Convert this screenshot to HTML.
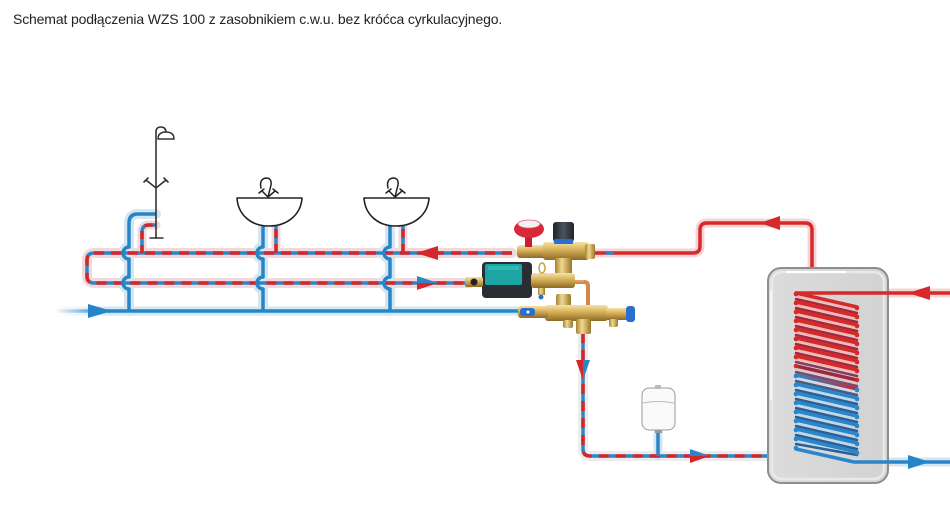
<!DOCTYPE html>
<html><head><meta charset="utf-8">
<style>
html,body{margin:0;padding:0;background:#fff;}
body{width:950px;height:506px;position:relative;overflow:hidden;}
.t{position:absolute;left:13px;top:11px;font-family:"Liberation Sans",sans-serif;font-size:14px;color:#222;white-space:nowrap;letter-spacing:-0.15px;}
svg{position:absolute;left:0;top:0;}
</style></head><body>
<div class="t">Schemat podłączenia WZS 100 z zasobnikiem c.w.u. bez króćca cyrkulacyjnego.</div>
<svg width="950" height="506" viewBox="0 0 950 506" xmlns="http://www.w3.org/2000/svg">
<defs>
<linearGradient id="fade" x1="55" y1="0" x2="110" y2="0" gradientUnits="userSpaceOnUse">
<stop offset="0" stop-color="#2585c7" stop-opacity="0"/><stop offset="1" stop-color="#2585c7"/></linearGradient>
<linearGradient id="fadeh" x1="55" y1="0" x2="110" y2="0" gradientUnits="userSpaceOnUse">
<stop offset="0" stop-color="#d3e6f2" stop-opacity="0"/><stop offset="1" stop-color="#d3e6f2"/></linearGradient>
<linearGradient id="brass" x1="0" y1="0" x2="0" y2="1">
<stop offset="0" stop-color="#f5e2a8"/><stop offset="0.45" stop-color="#d4ae55"/><stop offset="1" stop-color="#8d6a26"/></linearGradient>
<linearGradient id="brassv" x1="0" y1="0" x2="1" y2="0">
<stop offset="0" stop-color="#a4822f"/><stop offset="0.4" stop-color="#f0d892"/><stop offset="1" stop-color="#9a7628"/></linearGradient>
<linearGradient id="blk" x1="0" y1="0" x2="1" y2="0">
<stop offset="0" stop-color="#1f232a"/><stop offset="0.5" stop-color="#4a5260"/><stop offset="1" stop-color="#1f232a"/></linearGradient>
<linearGradient id="tank" x1="0" y1="0" x2="1" y2="0">
<stop offset="0" stop-color="#dcdcdc"/><stop offset="1" stop-color="#d2d2d2"/></linearGradient>
<linearGradient id="mix" x1="796" y1="0" x2="857" y2="0" gradientUnits="userSpaceOnUse">
<stop offset="0" stop-color="#2a86c8"/><stop offset="1" stop-color="#c8283a"/></linearGradient>
</defs>

<!-- ===== HALOS ===== -->
<g fill="none" stroke-linecap="round" stroke-linejoin="round">
<path d="M55,311 L520,311" stroke="url(#fadeh)" stroke-width="9"/>
<path d="M110,311 L520,311" stroke="#d3e6f2" stroke-width="9"/>
<path d="M512,253 L94,253 Q87,253 87,260 L87,276 Q87,283 94,283 L470,283" stroke="#f1d9da" stroke-width="10"/>
<path d="M142,253 L142,232 Q142,225 149,225 L156,225" stroke="#f1d9da" stroke-width="9"/>
<path d="M276,253 L276,226" stroke="#f1d9da" stroke-width="9"/>
<path d="M403,253 L403,226" stroke="#f1d9da" stroke-width="9"/>
<path d="M129,311 L129,289 A6,6 0 0 1 129,277 L129,259 A6,6 0 0 1 129,247 L129,223 Q129,214 138,214 L156,214" stroke="#d3e6f2" stroke-width="10"/>
<path d="M263,311 L263,289 A6,6 0 0 1 263,277 L263,259 A6,6 0 0 1 263,247 L263,226" stroke="#d3e6f2" stroke-width="10"/>
<path d="M390,311 L390,289 A6,6 0 0 1 390,277 L390,259 A6,6 0 0 1 390,247 L390,226" stroke="#d3e6f2" stroke-width="10"/>
<path d="M593,253 L693,253 Q700,253 700,246 L700,230 Q700,223 707,223 L805,223 Q812,223 812,230 L812,268" stroke="#f4d4d5" stroke-width="9"/>
<path d="M583,333 L583,449 Q583,456 590,456 L768,456" stroke="#ececec" stroke-width="10"/>
<path d="M658,432 L658,456" stroke="#d3e6f2" stroke-width="9"/>
<path d="M950,293 L800,293" stroke="#f4d4d5" stroke-width="9"/>
<path d="M855,462 L950,462" stroke="#d3e6f2" stroke-width="9"/>
</g>

<!-- ===== PIPE LINES ===== -->
<g fill="none" stroke-width="3.5" stroke-linejoin="round">
<path d="M55,311 L110,311" stroke="url(#fade)"/>
<path d="M108,311 L520,311" stroke="#2585c7"/>
<path d="M512,253 L94,253 Q87,253 87,260 L87,276 Q87,283 94,283 L470,283" stroke="#2a86c8"/>
<path d="M512,253 L94,253 Q87,253 87,260 L87,276 Q87,283 94,283 L470,283" stroke="#d7262b" stroke-dasharray="10 7"/>
<path d="M142,253 L142,232 Q142,225 149,225 L156,225" stroke="#2a86c8"/>
<path d="M142,253 L142,232 Q142,225 149,225 L156,225" stroke="#d7262b" stroke-dasharray="8 6"/>
<path d="M276,253 L276,226" stroke="#2a86c8"/>
<path d="M276,253 L276,226" stroke="#d7262b" stroke-dasharray="9 6"/>
<path d="M403,253 L403,226" stroke="#2a86c8"/>
<path d="M403,253 L403,226" stroke="#d7262b" stroke-dasharray="9 6"/>
<path d="M129,311 L129,289 A6,6 0 0 1 129,277 L129,259 A6,6 0 0 1 129,247 L129,223 Q129,214 138,214 L156,214" stroke="#2585c7"/>
<path d="M263,311 L263,289 A6,6 0 0 1 263,277 L263,259 A6,6 0 0 1 263,247 L263,226" stroke="#2585c7"/>
<path d="M390,311 L390,289 A6,6 0 0 1 390,277 L390,259 A6,6 0 0 1 390,247 L390,226" stroke="#2585c7"/>
<path d="M593,253 L693,253 Q700,253 700,246 L700,230 Q700,223 707,223 L805,223 Q812,223 812,230 L812,268" stroke="#d62a2a"/>
<path d="M606,253 L614,253" stroke="#2a86c8"/>
<path d="M583,333 L583,449 Q583,456 590,456 L768,456" stroke="#2a86c8"/>
<path d="M583,333 L583,449 Q583,456 590,456 L768,456" stroke="#d7262b" stroke-dasharray="10 7"/>
<path d="M658,432 L658,456" stroke="#2a86c8"/>
</g>

<!-- ===== ARROWS ===== -->
<polygon points="88,304 112,311 88,318" fill="#2585c7"/>
<polygon points="438,246 416,253 438,260" fill="#d7262b"/>
<polygon points="417,276 438,283 417,283" fill="#2a86c8"/>
<polygon points="417,283 438,283 417,290" fill="#d7262b"/>
<polygon points="780,216 760,223 780,230" fill="#d62a2a"/>
<polygon points="576,360 583,360 583,380" fill="#d7262b"/>
<polygon points="583,360 590,360 583,380" fill="#2a86c8"/>
<polygon points="690,449 710,456 690,456" fill="#2a86c8"/>
<polygon points="690,456 710,456 690,463" fill="#d7262b"/>

<!-- ===== SHOWER ===== -->
<g fill="none" stroke="#333" stroke-width="1.6" stroke-linecap="round">
<path d="M156,238 L156,132 Q156,127 161,127 Q166,127 166,133"/>
<path d="M150,238 L163,238"/>
<path d="M146,180 L156,188 L166,180"/>
<path d="M144,182 L148,178 M164,178 L168,182"/>
</g>
<path d="M158,139 Q158,132 166,132 Q174,132 174,139 Z" fill="#fff" stroke="#333" stroke-width="1.5"/>

<!-- ===== SINKS ===== -->
<g fill="#fff" stroke="#222" stroke-width="1.6" stroke-linejoin="round">
<path d="M237,198 L302,198 C301,214 288,226 269,226 C250,226 238,214 237,198 Z"/>
<path d="M364,198 L429,198 C428,214 415,226 396,226 C377,226 365,214 364,198 Z"/>
</g>
<g fill="none" stroke="#222" stroke-width="1.5" stroke-linecap="round">
<path d="M261,188 Q259,179 266,178 Q272,178 271,185 L268,197"/>
<path d="M268,197 L262,191 M268,197 L275,191 M259,193 L264,189 M273,189 L278,193"/>
<path d="M388,188 Q386,179 393,178 Q399,178 398,185 L395,197"/>
<path d="M395,197 L389,191 M395,197 L402,191 M386,193 L391,189 M400,189 L405,193"/>
</g>

<!-- ===== EXPANSION VESSEL ===== -->
<rect x="655" y="427" width="7" height="6" fill="#999"/>
<rect x="642" y="388" width="33" height="42" rx="7" fill="#fafafa" stroke="#9a9a9a" stroke-width="1"/>
<path d="M643,403 Q658,400 674,403" stroke="#bbb" fill="none" stroke-width="1"/>
<rect x="655" y="385" width="6" height="4" fill="#bbb"/>

<!-- ===== TANK ===== -->
<rect x="768" y="268" width="120" height="215" rx="13" fill="url(#tank)" stroke="#8e8e8e" stroke-width="2"/>
<rect x="772" y="272" width="112" height="207" rx="10" fill="none" stroke="#e9e9e9" stroke-width="2.5"/>
<path d="M786,272 L846,272" stroke="#fff" stroke-width="2"/>
<path d="M771,290 L771,400" stroke="#f5f5f5" stroke-width="2"/>

<!-- coil -->
<g stroke-linecap="round">
<path d="M950,293 L796,293" stroke="#d62a2a" stroke-width="3.5"/>
<path d="M796,293 L857,307" stroke="#d62a2a" stroke-width="3.5"/>
<path d="M796,296 L857,310" stroke="#f2b8b8" stroke-width="2"/>
<path d="M796,299 L857,313" stroke="#a8283a" stroke-width="2.5"/>
<path d="M796,302 L857,316" stroke="#d62a2a" stroke-width="3.5"/>
<path d="M796,305 L857,319" stroke="#f2b8b8" stroke-width="2"/>
<path d="M796,308 L857,322" stroke="#a8283a" stroke-width="2.5"/>
<path d="M796,311 L857,325" stroke="#d62a2a" stroke-width="3.5"/>
<path d="M796,314 L857,328" stroke="#f2b8b8" stroke-width="2"/>
<path d="M796,317 L857,331" stroke="#a8283a" stroke-width="2.5"/>
<path d="M796,320 L857,334" stroke="#d62a2a" stroke-width="3.5"/>
<path d="M796,323 L857,337" stroke="#f2b8b8" stroke-width="2"/>
<path d="M796,326 L857,340" stroke="#a8283a" stroke-width="2.5"/>
<path d="M796,329 L857,343" stroke="#d62a2a" stroke-width="3.5"/>
<path d="M796,332 L857,346" stroke="#f2b8b8" stroke-width="2"/>
<path d="M796,335 L857,349" stroke="#a8283a" stroke-width="2.5"/>
<path d="M796,338 L857,352" stroke="#d62a2a" stroke-width="3.5"/>
<path d="M796,341 L857,355" stroke="#f2b8b8" stroke-width="2"/>
<path d="M796,344 L857,358" stroke="#a8283a" stroke-width="2.5"/>
<path d="M796,347 L857,361" stroke="#d62a2a" stroke-width="3.5"/>
<path d="M796,350 L857,364" stroke="#f2b8b8" stroke-width="2"/>
<path d="M796,353 L857,367" stroke="#a8283a" stroke-width="2.5"/>
<path d="M796,356 L857,370" stroke="#d62a2a" stroke-width="3.5"/>
<path d="M796,359 L857,373" stroke="#f2b8b8" stroke-width="2"/>
<path d="M796,362 L857,376" stroke="#8a3a5a" stroke-width="2.5"/>
<path d="M796,366 L857,380" stroke="#9a2a40" stroke-width="3.5"/>
<path d="M796,369 L857,383" stroke="#e6c0c8" stroke-width="2"/>
<path d="M796,372 L857,386" stroke="#7a4a6a" stroke-width="2.5"/>
<path d="M796,375 L857,389" stroke="url(#mix)" stroke-width="3.5"/>
<path d="M796,378 L857,392" stroke="#c8dcec" stroke-width="2"/>
<path d="M796,381 L857,395" stroke="#4a5a80" stroke-width="2.5"/>
<path d="M796,384 L857,398" stroke="#2a86c8" stroke-width="3.5"/>
<path d="M796,387 L857,401" stroke="#bcd8ee" stroke-width="2"/>
<path d="M796,390 L857,404" stroke="#2a5f98" stroke-width="2.5"/>
<path d="M796,393 L857,407" stroke="#2a86c8" stroke-width="3.5"/>
<path d="M796,396 L857,410" stroke="#bcd8ee" stroke-width="2"/>
<path d="M796,399 L857,413" stroke="#2a5f98" stroke-width="2.5"/>
<path d="M796,402 L857,416" stroke="#2a86c8" stroke-width="3.5"/>
<path d="M796,405 L857,419" stroke="#bcd8ee" stroke-width="2"/>
<path d="M796,408 L857,422" stroke="#2a5f98" stroke-width="2.5"/>
<path d="M796,411 L857,425" stroke="#2a86c8" stroke-width="3.5"/>
<path d="M796,414 L857,428" stroke="#bcd8ee" stroke-width="2"/>
<path d="M796,417 L857,431" stroke="#2a5f98" stroke-width="2.5"/>
<path d="M796,420 L857,434" stroke="#2a86c8" stroke-width="3.5"/>
<path d="M796,423 L857,437" stroke="#bcd8ee" stroke-width="2"/>
<path d="M796,426 L857,440" stroke="#2a5f98" stroke-width="2.5"/>
<path d="M796,429 L857,443" stroke="#2a86c8" stroke-width="3.5"/>
<path d="M796,432 L857,446" stroke="#bcd8ee" stroke-width="2"/>
<path d="M796,435 L857,449" stroke="#2a5f98" stroke-width="2.5"/>
<path d="M796,438 L857,452" stroke="#2a86c8" stroke-width="3.5"/>
<path d="M796,441 L857,455" stroke="#bcd8ee" stroke-width="2"/>
<path d="M796,444 L857,455" stroke="#2a5f98" stroke-width="2.5"/>
<path d="M796,449 L854,462 L950,462" stroke="#2a86c8" stroke-width="3.5" fill="none" stroke-linejoin="round"/>
</g>
<!-- coil end dots -->
<g fill="#d62a2a">
<circle cx="796" cy="294" r="2.3"/><circle cx="796" cy="303" r="2.3"/><circle cx="796" cy="312" r="2.3"/>
<circle cx="796" cy="321" r="2.3"/><circle cx="796" cy="330" r="2.3"/><circle cx="796" cy="339" r="2.3"/>
<circle cx="796" cy="348" r="2.3"/><circle cx="796" cy="357" r="2.3"/><circle cx="796" cy="366" r="2.3"/>
<circle cx="857" cy="308" r="2.3"/><circle cx="857" cy="317" r="2.3"/><circle cx="857" cy="326" r="2.3"/>
<circle cx="857" cy="335" r="2.3"/><circle cx="857" cy="344" r="2.3"/><circle cx="857" cy="353" r="2.3"/>
<circle cx="857" cy="362" r="2.3"/><circle cx="857" cy="371" r="2.3"/><circle cx="857" cy="380" r="2.3"/>
</g>
<g fill="#2a86c8">
<circle cx="796" cy="376" r="2.3"/><circle cx="796" cy="385" r="2.3"/><circle cx="796" cy="394" r="2.3"/>
<circle cx="796" cy="403" r="2.3"/><circle cx="796" cy="412" r="2.3"/><circle cx="796" cy="421" r="2.3"/>
<circle cx="796" cy="430" r="2.3"/><circle cx="796" cy="439" r="2.3"/><circle cx="796" cy="448" r="2.3"/>
<circle cx="857" cy="390" r="2.3"/><circle cx="857" cy="399" r="2.3"/><circle cx="857" cy="408" r="2.3"/>
<circle cx="857" cy="417" r="2.3"/><circle cx="857" cy="426" r="2.3"/><circle cx="857" cy="435" r="2.3"/>
<circle cx="857" cy="444" r="2.3"/><circle cx="857" cy="453" r="2.3"/>
</g>
<polygon points="930,286 908,293 930,300" fill="#d62a2a"/>
<polygon points="908,455 930,462 908,469" fill="#2585c7"/>

<!-- ===== VALVE GROUP ===== -->
<path d="M572,282 L584,282 Q588,282 588,286 L588,306" fill="none" stroke="#d4874c" stroke-width="4"/>
<path d="M572,281 L584,281" stroke="#f0b888" stroke-width="1"/>
<rect x="517" y="245" width="30" height="13" rx="3" fill="url(#brass)"/>
<rect x="543" y="242" width="46" height="18" rx="3" fill="url(#brass)"/>
<rect x="585" y="244" width="10" height="15" rx="2" fill="url(#brassv)"/>
<rect x="555" y="258" width="17" height="17" fill="url(#brassv)"/>
<rect x="525" y="234" width="7" height="13" fill="#c81e30"/>
<ellipse cx="529" cy="229" rx="15" ry="9" fill="#d8283a"/>
<ellipse cx="529" cy="224" rx="11" ry="4" fill="#f2f2f2" stroke="#e06070" stroke-width="0.8"/>
<rect x="553" y="222" width="21" height="20" rx="3" fill="url(#blk)"/>
<rect x="554" y="239" width="19" height="5" rx="1" fill="#2a6fd0"/>
<rect x="482" y="262" width="50" height="36" rx="4" fill="#2a2d33"/>
<rect x="485" y="264" width="37" height="21" rx="2" fill="#1ca5a3"/>
<rect x="488" y="266" width="31" height="4" fill="#3cc4c0" opacity="0.6"/>
<rect x="465" y="277" width="18" height="10" rx="2" fill="url(#brass)"/>
<circle cx="474" cy="282" r="3.5" fill="#222"/>
<rect x="531" y="273" width="44" height="15" rx="3" fill="url(#brass)"/>
<ellipse cx="542" cy="268" rx="3" ry="5" fill="none" stroke="#c9a24a" stroke-width="1.5"/>
<rect x="538" y="288" width="7" height="7" fill="url(#brassv)"/>
<circle cx="541" cy="297" r="2.5" fill="#2a6fd0"/>
<rect x="556" y="294" width="15" height="12" rx="2" fill="url(#brassv)"/>
<rect x="545" y="305" width="63" height="16" rx="3" fill="url(#brass)"/>
<rect x="606" y="308" width="22" height="12" rx="2" fill="url(#brass)"/>
<rect x="626" y="306" width="9" height="16" rx="3" fill="#2a6fd0"/>
<rect x="576" y="319" width="15" height="15" rx="2" fill="url(#brassv)"/>
<rect x="563" y="320" width="10" height="8" rx="2" fill="url(#brassv)"/>
<rect x="609" y="319" width="9" height="8" rx="2" fill="url(#brassv)"/>
<rect x="518" y="306" width="30" height="12" rx="3" fill="url(#brass)"/>
<rect x="520" y="308" width="15" height="8" rx="3" fill="#2a6fd0"/>
<circle cx="528" cy="312" r="1.5" fill="#fff"/>
</svg>
</body></html>
